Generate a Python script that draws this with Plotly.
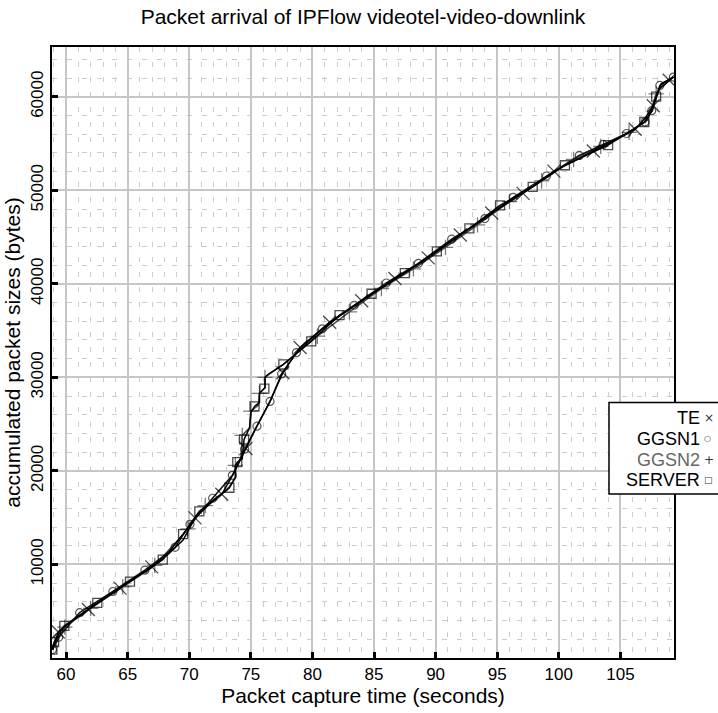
import plotly.graph_objects as go

# ---------------- data ----------------
te_t = [58.9, 59.37, 60.5, 61.81, 63.0, 64.38, 65.6, 66.96, 68.3, 69.5, 70.47, 71.6, 72.64, 73.6,
        74.6, 75.5, 76.56, 77.6, 79.0, 80.2, 81.4, 82.7, 84.0, 85.4, 86.7, 88.0, 89.4, 90.7, 92.0,
        93.3, 94.55, 95.8, 97.1, 98.4, 99.6, 101.2, 102.8, 104.5, 106.2, 107.0, 107.67, 108.2, 108.96, 109.3]
te_b = [900, 2780, 4000, 5190, 6300, 7470, 8600, 9740, 11100, 12600, 14980, 16400, 17500, 19700,
        22400, 24800, 27430, 30500, 33200, 34600, 35900, 37000, 38200, 39400, 40580, 41600, 42780, 44000, 45230,
        46400, 47570, 48600, 49670, 50900, 52050, 53100, 54210, 55300, 56520, 57700, 59040, 60900, 61770, 62100]
te_mark = [False, True, False, True, False, True, False, True, False, False, True, False, True, False,
           True, False, False, True, True, False, True, False, True, False, True, False, True, False, True,
           False, True, False, True, False, True, False, True, False, True, False, True, False, True, False]

g1_t = [58.9, 59.4, 61.1, 63.8, 66.4, 68.85, 70.06, 71.9, 73.5, 74.5, 75.5, 76.56, 77.5, 78.7,
        80.8, 83.4, 86.0, 88.6, 91.3, 94.0, 96.3, 99.0, 101.66, 103.6, 105.5, 107.0, 107.54, 108.2, 109.3]
g1_b = [900, 2220, 4850, 7110, 9390, 11830, 14290, 17080, 19530, 22320, 24780, 27430, 30370, 32640,
        35190, 37710, 40090, 42190, 44770, 46980, 49250, 51530, 53730, 54900, 56070, 57300, 58510, 61210, 62100]

g2_t = [58.9, 59.9, 62.0, 64.6, 67.2, 69.9, 71.3, 73.1, 73.75, 73.75, 74.2, 74.3, 74.9, 75.0,
        75.6, 75.7, 76.15, 76.15, 76.4, 77.64, 80.4, 83.0, 85.6, 88.2, 90.8, 93.4, 96.0, 98.6, 101.2,
        103.4, 105.7, 107.2, 107.9, 108.5, 109.3]
g2_b = [900, 3300, 5300, 7600, 9900, 13800, 16300, 18000, 19300, 20600, 21300, 23800, 24600, 26400,
        27000, 28300, 28900, 30000, 30300, 31400, 34400, 37000, 39500, 41600, 43900, 46300, 48800, 51000, 53300,
        54700, 56200, 57500, 60300, 61500, 62100]
g2_mark = [False, True, True, True, True, True, True, False, False, True, False, True, False, True,
           False, True, False, True, False, False, True, True, True, True, True, True, True, True, True,
           True, True, False, True, False, False]

sv_t = [58.89, 59.03, 59.86, 62.54, 65.19, 67.85, 69.5, 70.82, 73.26, 73.75, 73.75, 73.9, 74.3, 74.45,
        74.9, 75.0, 75.3, 75.7, 75.7, 76.1, 76.15, 76.15, 76.4, 77.64, 79.9, 82.2, 84.8, 87.5, 90.1,
        92.74, 95.23, 97.88, 100.5, 104.0, 106.94, 107.6, 107.9, 108.3, 109.3]
sv_b = [890, 1700, 3440, 5890, 8160, 10510, 13240, 15680, 18200, 19300, 20600, 20930, 21300, 23370,
        24600, 26200, 26900, 27300, 28300, 28800, 28900, 30000, 30300, 31400, 33860, 36660, 38940, 41140, 43480,
        45930, 48380, 50370, 52680, 54840, 57300, 58500, 60020, 61400, 62100]
sv_mark = [True, True, True, True, True, True, True, True, True, False, False, True, False, True,
           False, False, True, False, False, True, False, False, False, True, True, True, True, True, True,
           True, True, True, True, True, True, False, True, False, False]

legend_names = ["TE", "GGSN1", "GGSN2", "SERVER"]
legend_glyphs = ["×", "○", "+", "□"]

x_ticks = [60, 65, 70, 75, 80, 85, 90, 95, 100, 105]
y_ticks = [10000, 20000, 30000, 40000, 50000, 60000]

# ---------------- figure ----------------
fig = go.Figure()

def marker_sizes(flags, s):
    return [s if f else 0 for f in flags]

fig.add_trace(go.Scatter(
    x=g2_t, y=g2_b, mode="lines+markers", name="GGSN2",
    line=dict(color="#444444", width=1.5),
    marker=dict(symbol="cross-thin-open", size=marker_sizes(g2_mark, 11),
                line=dict(color="#555555", width=1.3)),
    showlegend=False))
fig.add_trace(go.Scatter(
    x=g1_t, y=g1_b, mode="lines+markers", name="GGSN1",
    line=dict(color="#111111", width=1.5),
    marker=dict(symbol="circle-open", size=[8] * len(g1_t),
                line=dict(color="#555555", width=1.2)),
    showlegend=False))
fig.add_trace(go.Scatter(
    x=sv_t, y=sv_b, mode="lines+markers", name="SERVER",
    line=dict(color="#000000", width=1.5),
    marker=dict(symbol="square-open", size=marker_sizes(sv_mark, 9),
                line=dict(color="#000000", width=1.3)),
    showlegend=False))
fig.add_trace(go.Scatter(
    x=te_t, y=te_b, mode="lines+markers", name="TE",
    line=dict(color="#000000", width=1.5),
    marker=dict(symbol="x-thin-open", size=marker_sizes(te_mark, 13),
                line=dict(color="#000000", width=1.3)),
    showlegend=False))

FONT = "Liberation Sans, Arial, sans-serif"

axis_common = dict(
    showline=True, linecolor="#000000", linewidth=1.5, mirror=True,
    ticks="inside", ticklen=6, tickwidth=2.5, tickcolor="#000000",
    showgrid=True, gridcolor="#c6c6c6", gridwidth=2,
    zeroline=False,
    tickfont=dict(family=FONT, size=17, color="#000000"),
)

fig.update_xaxes(
    range=[58.86, 109.35], tickvals=x_ticks,
    minor=dict(dtick=1, tick0=0, showgrid=True, gridcolor="#cccccc",
               griddash="5px,10px", gridwidth=1),
    title=dict(text="Packet capture time (seconds)",
               font=dict(family=FONT, size=21, color="#000000"), standoff=2),
    **axis_common)
fig.update_yaxes(
    range=[0, 65320], tickvals=y_ticks, tickangle=-90, tickformat="d",
    minor=dict(dtick=2000, tick0=0, showgrid=True, gridcolor="#cccccc",
               griddash="5px,10px", gridwidth=1),
    title=dict(text="accumulated packet sizes (bytes)",
               font=dict(family=FONT, size=21, color="#000000"), standoff=2),
    **axis_common)

# legend box (custom, gnuplot-style: text right-aligned, symbol after it)
def px_to_paper_x(px):
    return (px - 52) / 622.0

def py_to_paper_y(py):
    return (669 - py) / 622.0

fig.add_shape(type="rect", xref="paper", yref="paper",
              x0=px_to_paper_x(609), x1=px_to_paper_x(740),
              y0=py_to_paper_y(502), y1=py_to_paper_y(409),
              line=dict(color="#000000", width=1.5), fillcolor="#ffffff", layer="above")

row_y = [425, 446, 467, 488]
text_colors = ["#000000", "#000000", "#666666", "#000000"]
glyph_sizes = [12, 8, 12, 9]
for name, glyph, yy, col, gs in zip(legend_names, legend_glyphs, row_y, text_colors, glyph_sizes):
    fig.add_annotation(xref="paper", yref="paper", x=px_to_paper_x(701), y=py_to_paper_y(yy),
                       text=name, showarrow=False, xanchor="right", yanchor="middle",
                       borderpad=0, font=dict(family=FONT, size=18, color=col))
    fig.add_annotation(xref="paper", yref="paper", x=px_to_paper_x(703), y=py_to_paper_y(yy),
                       text=glyph, showarrow=False, xanchor="left", yanchor="middle",
                       borderpad=0, font=dict(family="DejaVu Sans", size=gs, color="#333333"))

fig.update_layout(
    width=718, height=713,
    margin=dict(l=52, r=44, t=47, b=44),
    paper_bgcolor="#ffffff", plot_bgcolor="#ffffff",
    title=dict(text="Packet arrival of IPFlow videotel-video-downlink",
               x=0.5, xref="paper", xanchor="center",
               y=1 - 17 / 713, yref="container", yanchor="middle",
               font=dict(family=FONT, size=21, color="#000000")),
    showlegend=False,
)

fig.write_html("out.html")
